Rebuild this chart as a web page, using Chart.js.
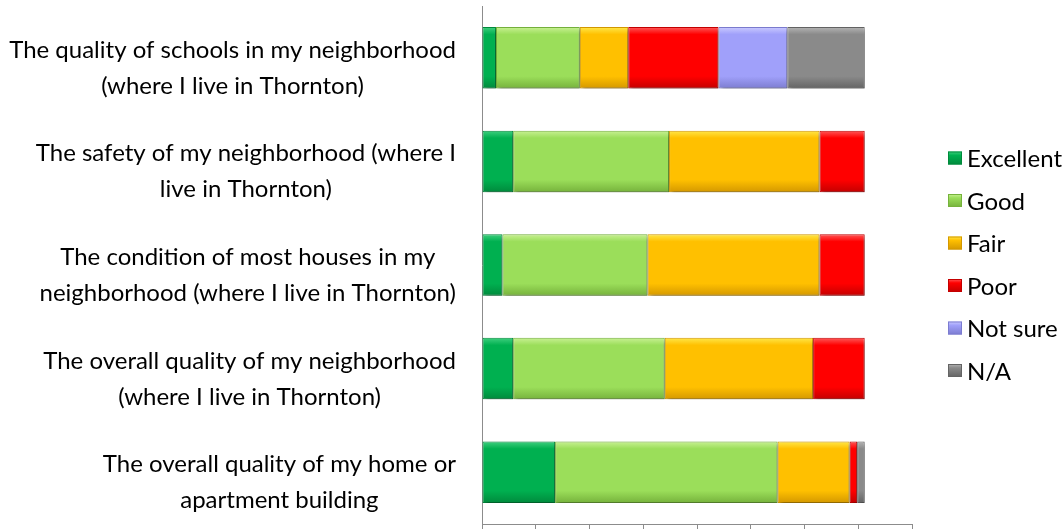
<!DOCTYPE html>
<html>
<head>
<meta charset="utf-8">
<title>Neighborhood ratings</title>
<script src="https://cdn.jsdelivr.net/npm/chart.js@4.4.1/dist/chart.umd.min.js"></script>
<style>
  html, body { margin: 0; padding: 0; background: #ffffff; }
  #SurveyChart { display: block; }
</style>
</head>
<body>
<canvas id="SurveyChart" width="1063" height="529"></canvas>
<script>
// categories (each label is split into its two printed lines)
const questions = [
	["The quality of schools in my neighborhood", "(where I live in Thornton)"],
	["The safety of my neighborhood (where I", "live in Thornton)"],
	["The condition of most houses in my", "neighborhood (where I live in Thornton)"],
	["The overall quality of my neighborhood", "(where I live in Thornton)"],
	["The overall quality of my home or", "apartment building"],
];

// responses per rating
const excellent = [13, 29, 19, 29, 68];
const good = [78, 145, 135, 141, 207];
const fair = [45, 140, 160, 138, 67];
const poor = [84, 42, 42, 48, 7];
const notSure = [64, 0, 0, 0, 0];
const notApplicable = [72, 0, 0, 0, 7];

const seriesNames = ["Excellent", "Good", "Fair", "Poor", "Not sure", "N/A"];
const axisTicks = [0, 50, 100, 150, 200, 250, 300, 350, 400];

// colours: base, top highlight, bottom shade
const baseColors = ["#00b050", "#9bde5a", "#ffc000", "#ff0000", "#a0a0fa", "#8a8a8a"];
const lightColors = ["#40d07f", "#c9f194", "#ffe84a", "#ff5a5a", "#cacaff", "#b4b4b4"];
const darkColors = ["#008a3c", "#76b23c", "#d49800", "#c40000", "#7c7cd0", "#646464"];

const labelFont = "24px Lato";
const barShare = 0.594;

function bevel(i) {
	return function (context) {
		const chart = context.chart;
		const area = chart.chartArea;
		if (!area || context.type !== "data") return baseColors[i];
		const yScale = chart.scales.y;
		const y = yScale.getPixelForValue(context.dataIndex);
		const half = (area.bottom - area.top) / questions.length * barShare / 2;
		const g = chart.ctx.createLinearGradient(0, y - half, 0, y + half);
		g.addColorStop(0, lightColors[i]);
		g.addColorStop(0.12, baseColors[i]);
		g.addColorStop(0.8, baseColors[i]);
		g.addColorStop(1, darkColors[i]);
		return g;
	};
}

const seriesData = [excellent, good, fair, poor, notSure, notApplicable];
const datasets = seriesNames.map(function (name, i) {
	return {
		label: name,
		data: seriesData[i],
		backgroundColor: bevel(i),
		borderColor: darkColors[i],
		borderWidth: 1,
		borderSkipped: false,
		categoryPercentage: 1,
		barPercentage: barShare,
	};
});

// soft shadow under the bars
const barShadow = {
	id: "barShadow",
	beforeDatasetsDraw(chart) {
		const ctx = chart.ctx;
		ctx.save();
		ctx.shadowColor = "rgba(0,0,0,0.35)";
		ctx.shadowBlur = 4;
		ctx.shadowOffsetX = 2;
		ctx.shadowOffsetY = 3;
	},
	afterDatasetsDraw(chart) {
		chart.ctx.restore();
	},
};

// category labels: widest line flush with the axis, lines centred on it
const questionLabels = {
	id: "questionLabels",
	afterDraw(chart) {
		const ctx = chart.ctx;
		const yScale = chart.scales.y;
		const right = yScale.right - 26;
		ctx.save();
		ctx.font = labelFont;
		ctx.fillStyle = "#000000";
		ctx.textAlign = "center";
		ctx.textBaseline = "alphabetic";
		questions.forEach(function (lines, i) {
			const y = yScale.getPixelForValue(i);
			let widest = 0;
			for (const line of lines) widest = Math.max(widest, ctx.measureText(line).width);
			const cx = right - widest / 2;
			lines.forEach(function (line, j) {
				ctx.fillText(line, cx, y + j * 36);
			});
		});
		ctx.restore();
	},
};

// legend at the right, one item per row
const sideLegend = {
	id: "sideLegend",
	afterDraw(chart) {
		const ctx = chart.ctx;
		const area = chart.chartArea;
		const step = 42.5;
		const top = (area.top + area.bottom) / 2 - step * seriesNames.length / 2;
		const x = area.right + 36;
		ctx.save();
		ctx.font = labelFont;
		ctx.textAlign = "left";
		ctx.textBaseline = "alphabetic";
		chart.data.datasets.forEach(function (ds, i) {
			const boxTop = top + i * step + 14;
			const g = ctx.createLinearGradient(0, boxTop, 0, boxTop + 13);
			g.addColorStop(0, lightColors[i]);
			g.addColorStop(0.3, baseColors[i]);
			g.addColorStop(1, darkColors[i]);
			ctx.fillStyle = g;
			ctx.fillRect(x, boxTop, 14, 13);
			ctx.strokeStyle = darkColors[i];
			ctx.lineWidth = 1;
			ctx.strokeRect(x + 0.5, boxTop + 0.5, 13, 12);
			ctx.fillStyle = "#000000";
			ctx.fillText(ds.label, x + 19, boxTop + 15.7);
		});
		ctx.restore();
	},
};

new Chart(document.getElementById("SurveyChart"), {
	type: "bar",
	data: {
		labels: questions,
		datasets: datasets,
	},
	options: {
		indexAxis: "y",
		responsive: false,
		animation: false,
		devicePixelRatio: 1,
		layout: {
			padding: { top: 6, right: 151, bottom: 0, left: 0 },
		},
		plugins: {
			legend: { display: false },
			tooltip: { enabled: false },
		},
		scales: {
			x: {
				stacked: true,
				min: axisTicks[0],
				max: axisTicks[axisTicks.length - 1],
				ticks: { display: false, stepSize: axisTicks[1] - axisTicks[0] },
				grid: {
					display: true,
					drawOnChartArea: false,
					drawTicks: true,
					tickLength: 5,
					color: "#8c8c8c",
				},
				border: { display: true, color: "#8c8c8c", width: 1 },
			},
			y: {
				stacked: true,
				ticks: { display: false },
				grid: { display: false },
				border: { display: true, color: "#8c8c8c", width: 1 },
				afterFit(scale) {
					scale.width = 482;
				},
			},
		},
	},
	plugins: [barShadow, questionLabels, sideLegend],
});
</script>
</body>
</html>
